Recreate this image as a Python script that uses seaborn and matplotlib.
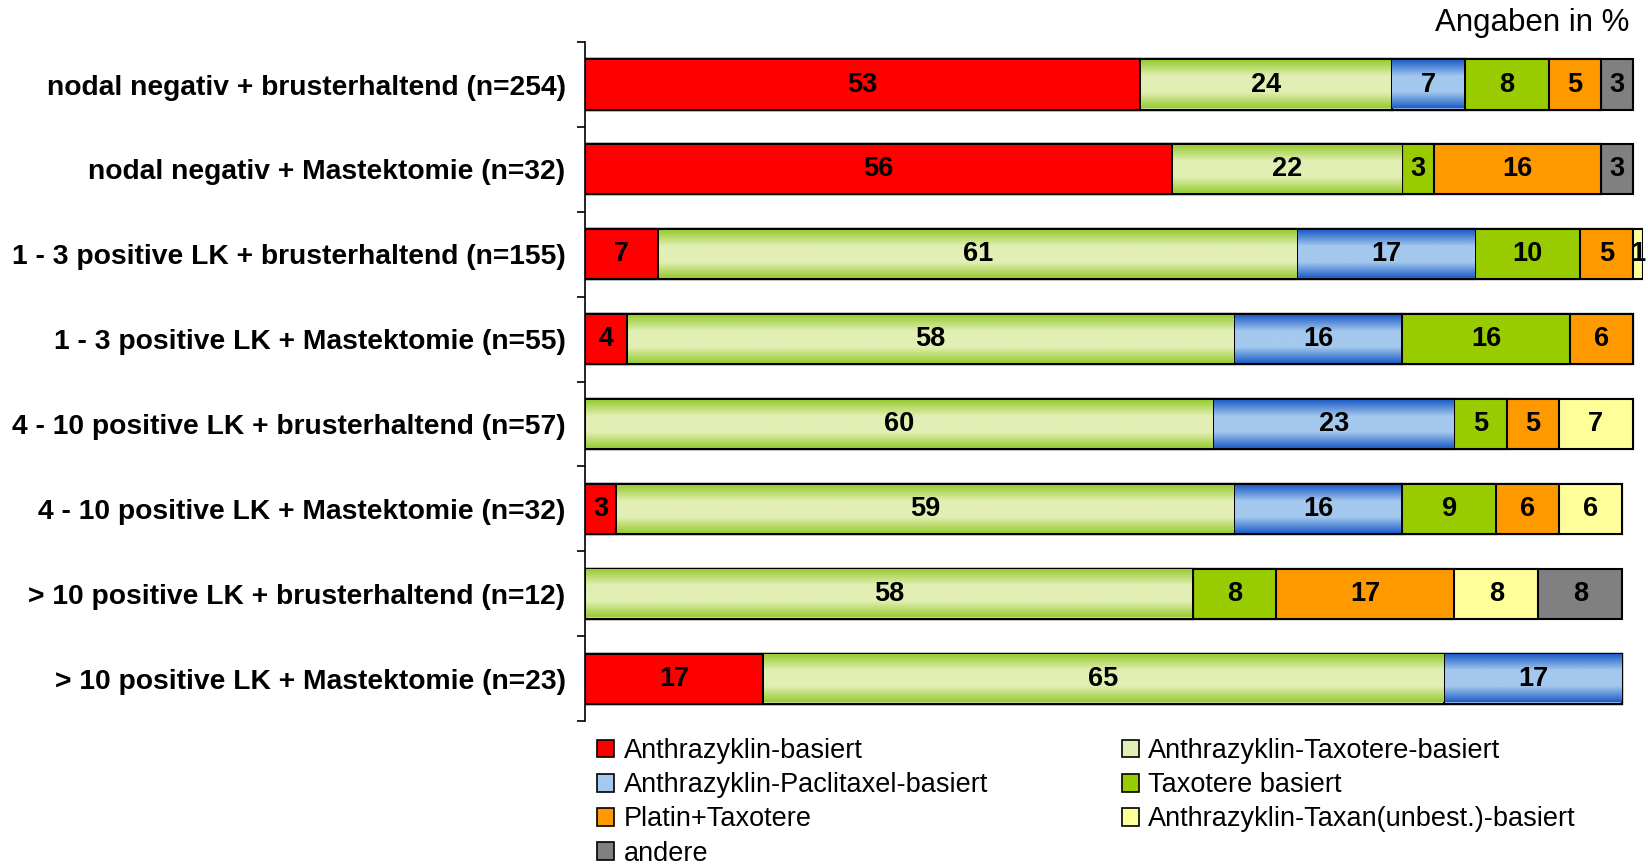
import numpy as np
import pandas as pd
import seaborn as sns
import matplotlib.pyplot as plt
from matplotlib.patches import Patch
from matplotlib.colors import LinearSegmentedColormap

groups = [
    "nodal negativ + brusterhaltend (n=254)",
    "nodal negativ + Mastektomie (n=32)",
    "1 - 3 positive LK + brusterhaltend (n=155)",
    "1 - 3 positive LK + Mastektomie (n=55)",
    "4 - 10 positive LK + brusterhaltend (n=57)",
    "4 - 10 positive LK + Mastektomie (n=32)",
    "> 10 positive LK + brusterhaltend (n=12)",
    "> 10 positive LK + Mastektomie (n=23)",
]
series = [
    "Anthrazyklin-basiert",
    "Anthrazyklin-Taxotere-basiert",
    "Anthrazyklin-Paclitaxel-basiert",
    "Taxotere basiert",
    "Platin+Taxotere",
    "Anthrazyklin-Taxan(unbest.)-basiert",
    "andere",
]
anthra = [53, 56, 7, 4, 0, 3, 0, 17]
anthra_taxotere = [24, 22, 61, 58, 60, 59, 58, 65]
anthra_paclitaxel = [7, 0, 17, 16, 23, 16, 0, 17]
taxotere = [8, 3, 10, 16, 5, 9, 8, 0]
platin_taxotere = [5, 16, 5, 6, 5, 6, 17, 0]
anthra_taxan = [0, 0, 1, 0, 7, 6, 8, 0]
andere = [3, 3, 0, 0, 0, 0, 8, 0]

colors = ["#FF0000", "#CCE490", "#8DB4E8", "#99CC00", "#FF9900", "#FFFF99", "#808080"]
# vertical gradients (edge, centre) for the two shaded series
gradients = {1: ("#99CC33", "#E2EFB4"), 2: ("#1F5FC8", "#A4C8EE")}

df = pd.DataFrame(
    np.array([anthra, anthra_taxotere, anthra_paclitaxel, taxotere,
              platin_taxotere, anthra_taxan, andere]).T,
    index=groups, columns=series)
cum = df.cumsum(axis=1)

sns.set_theme(style="white")
plt.rcParams["font.family"] = ["Liberation Sans", "DejaVu Sans"]
plt.rcParams["text.color"] = "black"
plt.rcParams["ytick.color"] = "black"

fig = plt.figure(figsize=(16.48, 8.64), dpi=100)
ax = fig.add_axes([0.355, 0.1655, 0.642, 0.7858])

bar_h = 0.59
# stacked bars: draw cumulative totals from the last series to the first
for i in reversed(range(len(series))):
    sns.barplot(x=cum.iloc[:, i].values, y=groups, orient="h", color=colors[i],
                saturation=1, width=bar_h, edgecolor="black", linewidth=1.5, ax=ax)

# gradient fill for the shaded series
dx, dy = 0.08, 0.015
for i, (c_edge, c_mid) in gradients.items():
    cmap = LinearSegmentedColormap.from_list("g", [c_edge, c_mid, c_mid, c_edge])
    grad = np.linspace(0, 1, 100).reshape(-1, 1)
    for r in range(len(groups)):
        v = df.iloc[r, i]
        if v <= 0:
            continue
        left = cum.iloc[r, i] - v
        ax.imshow(grad, cmap=cmap, aspect="auto", zorder=3,
                  extent=(left + dx, cum.iloc[r, i] - dx,
                          r + bar_h / 2 - dy, r - bar_h / 2 + dy))

# value labels
for r in range(len(groups)):
    for i in range(len(series)):
        v = df.iloc[r, i]
        if v > 0:
            ax.text(cum.iloc[r, i] - v / 2, r, str(v), ha="center", va="center",
                    fontsize=19.5, fontweight="bold", color="black", zorder=4)

ax.set_xlim(0, 101)
ax.set_ylim(len(groups) - 0.5, -0.5)
ax.set_xlabel("")
ax.set_ylabel("")
ax.xaxis.set_visible(False)
for s in ["top", "right", "bottom"]:
    ax.spines[s].set_visible(False)
ax.spines["left"].set_color("black")
ax.spines["left"].set_linewidth(1.2)
ax.set_yticks(range(len(groups)))
ax.set_yticklabels(groups, fontsize=20.3, fontweight="bold")
ax.set_yticks(np.arange(-0.5, len(groups), 1), minor=True)
ax.tick_params(axis="y", which="major", length=0, pad=14)
ax.tick_params(axis="y", which="minor", left=True, length=6, width=1.2, color="black")

fig.text(0.9886, 0.973, "Angaben in %", ha="right", va="center", fontsize=22.5)

handles = [Patch(facecolor=(gradients[i][1] if i in gradients else colors[i]),
                 edgecolor="black", linewidth=1.2) for i in range(len(series))]
order = [0, 2, 4, 6, 1, 3, 5]
fig.legend([handles[k] for k in order], [series[k] for k in order],
           loc="upper left", bbox_to_anchor=(0.3625, 0.1456), ncol=2, frameon=False,
           fontsize=19.5, handlelength=0.62, handleheight=0.62, handletextpad=0.36,
           labelspacing=0.3, columnspacing=4.93, borderaxespad=0, borderpad=0)

fig.savefig("out.png", dpi=100)
